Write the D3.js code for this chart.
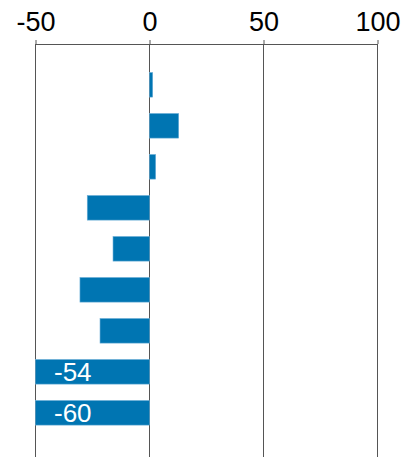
<!DOCTYPE html>
<html>
<head>
<meta charset="utf-8">
<script src="https://cdn.jsdelivr.net/npm/d3@7"></script>
<style>
  body { margin: 0; background: #fff; }
  svg { display: block; font-family: "Liberation Sans", Arial, sans-serif; }
</style>
</head>
<body>
<div id="chart"></div>
<script>
const categories = ['a', 'b', 'c', 'd', 'e', 'f', 'g', 'h', 'i'];
const values = [1.4, 12.8, 2.7, -27.3, -16, -30.5, -21.7, -54, -60];
const tickValues = [-50, 0, 50, 100];

const width = 411, height = 457;

const svg = d3.select('#chart').append('svg')
    .attr('width', width)
    .attr('height', height);

const x = d3.scaleLinear().domain([-50, 100]).range([35.5, 377.5]).clamp(true);
const y = d3.scaleBand().domain(categories).range([64.3, 433.3])
    .paddingInner(0.4).paddingOuter(0.2);

const axisY = 44;

// grid lines
svg.append('g')
    .selectAll('line')
    .data(tickValues)
    .join('line')
    .attr('x1', d => x(d)).attr('x2', d => x(d))
    .attr('y1', axisY).attr('y2', height)
    .attr('stroke', '#555')
    .attr('stroke-width', 1);

const axis = svg.append('g')
    .attr('transform', `translate(0, ${axisY})`)
    .call(d3.axisTop(x).tickValues(tickValues).tickFormat(d => String(d))
        .tickSizeInner(4).tickSizeOuter(0).tickPadding(9));
axis.select('.domain').attr('stroke', '#555');
axis.selectAll('.tick line').attr('stroke', '#555');
axis.selectAll('.tick text')
    .attr('fill', '#000')
    .style('font-size', '27px')
    .style('font-family', '"Liberation Sans", Arial, sans-serif');

// bars
svg.append('g')
    .selectAll('rect')
    .data(values)
    .join('rect')
    .attr('x', d => Math.min(x(0), x(d)))
    .attr('y', (d, i) => y(categories[i]))
    .attr('width', d => Math.abs(x(d) - x(0)))
    .attr('height', y.bandwidth())
    .attr('fill', '#0075b2')
    .attr('stroke', '#6aaed8')
    .attr('stroke-width', 0.6);

// labels for bars running past the axis
svg.append('g')
    .selectAll('text')
    .data(values.map((v, i) => ({v, c: categories[i]})).filter(d => d.v < -50))
    .join('text')
    .attr('x', x(-50) + 18.5)
    .attr('y', d => y(d.c) + y.bandwidth() / 2)
    .attr('dy', '0.36em')
    .attr('fill', '#fff')
    .style('font-size', '26px')
    .text(d => d.v);
</script>
</body>
</html>
